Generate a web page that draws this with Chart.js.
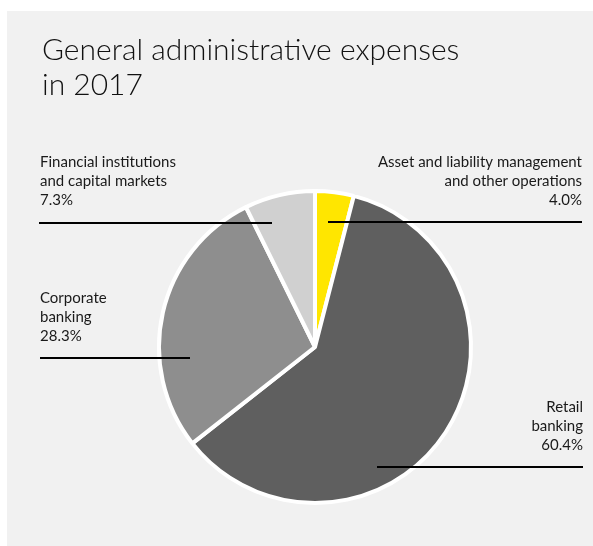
<!DOCTYPE html>
<html lang="en">
<head>
  <meta charset="UTF-8">
  <title>General administrative expenses in 2017</title>
  <script src="https://cdn.jsdelivr.net/npm/chart.js"></script>
  <style>
    body { margin: 0; background: #ffffff; }
    .chartCard { position: absolute; left: 7px; top: 11px; width: 586px; height: 535px; background: #f1f1f1; }
    .chartCard canvas { display: block; }
  </style>
</head>
<body>
  <div class="chartCard">
    <canvas id="myChart" width="586" height="535"></canvas>
  </div>

  <script>
    // data
    const categories = ['Asset and liability management and other operations', 'Retail banking', 'Corporate banking', 'Financial institutions and capital markets'];
    const shares = [4.0, 60.4, 28.3, 7.3];
    const sliceColors = ['#ffe600', '#5f5f5f', '#8e8e8e', '#d0d0d0'];
    const titleLines = ['General administrative expenses', 'in 2017'];

    // label text lines for each slice (last line is the share)
    const labelLines = [
      ['Asset and liability management', 'and other operations'],
      ['Retail', 'banking'],
      ['Corporate', 'banking'],
      ['Financial institutions', 'and capital markets']
    ];

    // layout of callouts (canvas px): text x, first baseline, align, leader line
    const callouts = [
      { x: 575, y: 156, align: 'right', line: [321, 575, 211] },
      { x: 576, y: 401, align: 'right', line: [370, 576, 456] },
      { x: 33,  y: 292, align: 'left',  line: [33, 183, 347] },
      { x: 33,  y: 156, align: 'left',  line: [32, 265, 212] }
    ];

    const fontFam = 'Lato, "Noto Sans", sans-serif';

    const annotate = {
      id: 'annotate',
      afterDraw(chart) {
        const ctx = chart.ctx;
        ctx.save();
        // title
        ctx.fillStyle = '#111111';
        ctx.font = '300 30px ' + fontFam;
        ctx.textAlign = 'left';
        ctx.textBaseline = 'alphabetic';
        titleLines.forEach((t, i) => ctx.fillText(t, 35, 49 + i * 35));

        // callouts
        ctx.font = '15px ' + fontFam;
        ctx.fillStyle = '#1a1a1a';
        callouts.forEach((c, i) => {
          const lines = labelLines[i].concat([shares[i].toFixed(1) + '%']);
          ctx.textAlign = c.align;
          lines.forEach((t, j) => ctx.fillText(t, c.x, c.y + j * 19));
          ctx.beginPath();
          ctx.moveTo(c.line[0], c.line[2]);
          ctx.lineTo(c.line[1], c.line[2]);
          ctx.lineWidth = 2;
          ctx.strokeStyle = '#000000';
          ctx.stroke();
        });
        ctx.restore();
      }
    };

    const config = {
      type: 'pie',
      data: {
        labels: categories,
        datasets: [{
          data: shares,
          backgroundColor: sliceColors,
          borderColor: '#ffffff',
          borderWidth: 4
        }]
      },
      options: {
        responsive: false,
        animation: false,
        layout: {
          padding: { left: 150, right: 120, top: 178, bottom: 41 }
        },
        plugins: {
          legend: { display: false },
          tooltip: { enabled: false },
          title: { display: false }
        }
      },
      plugins: [annotate]
    };

    new Chart(document.getElementById('myChart'), config);
  </script>
</body>
</html>
